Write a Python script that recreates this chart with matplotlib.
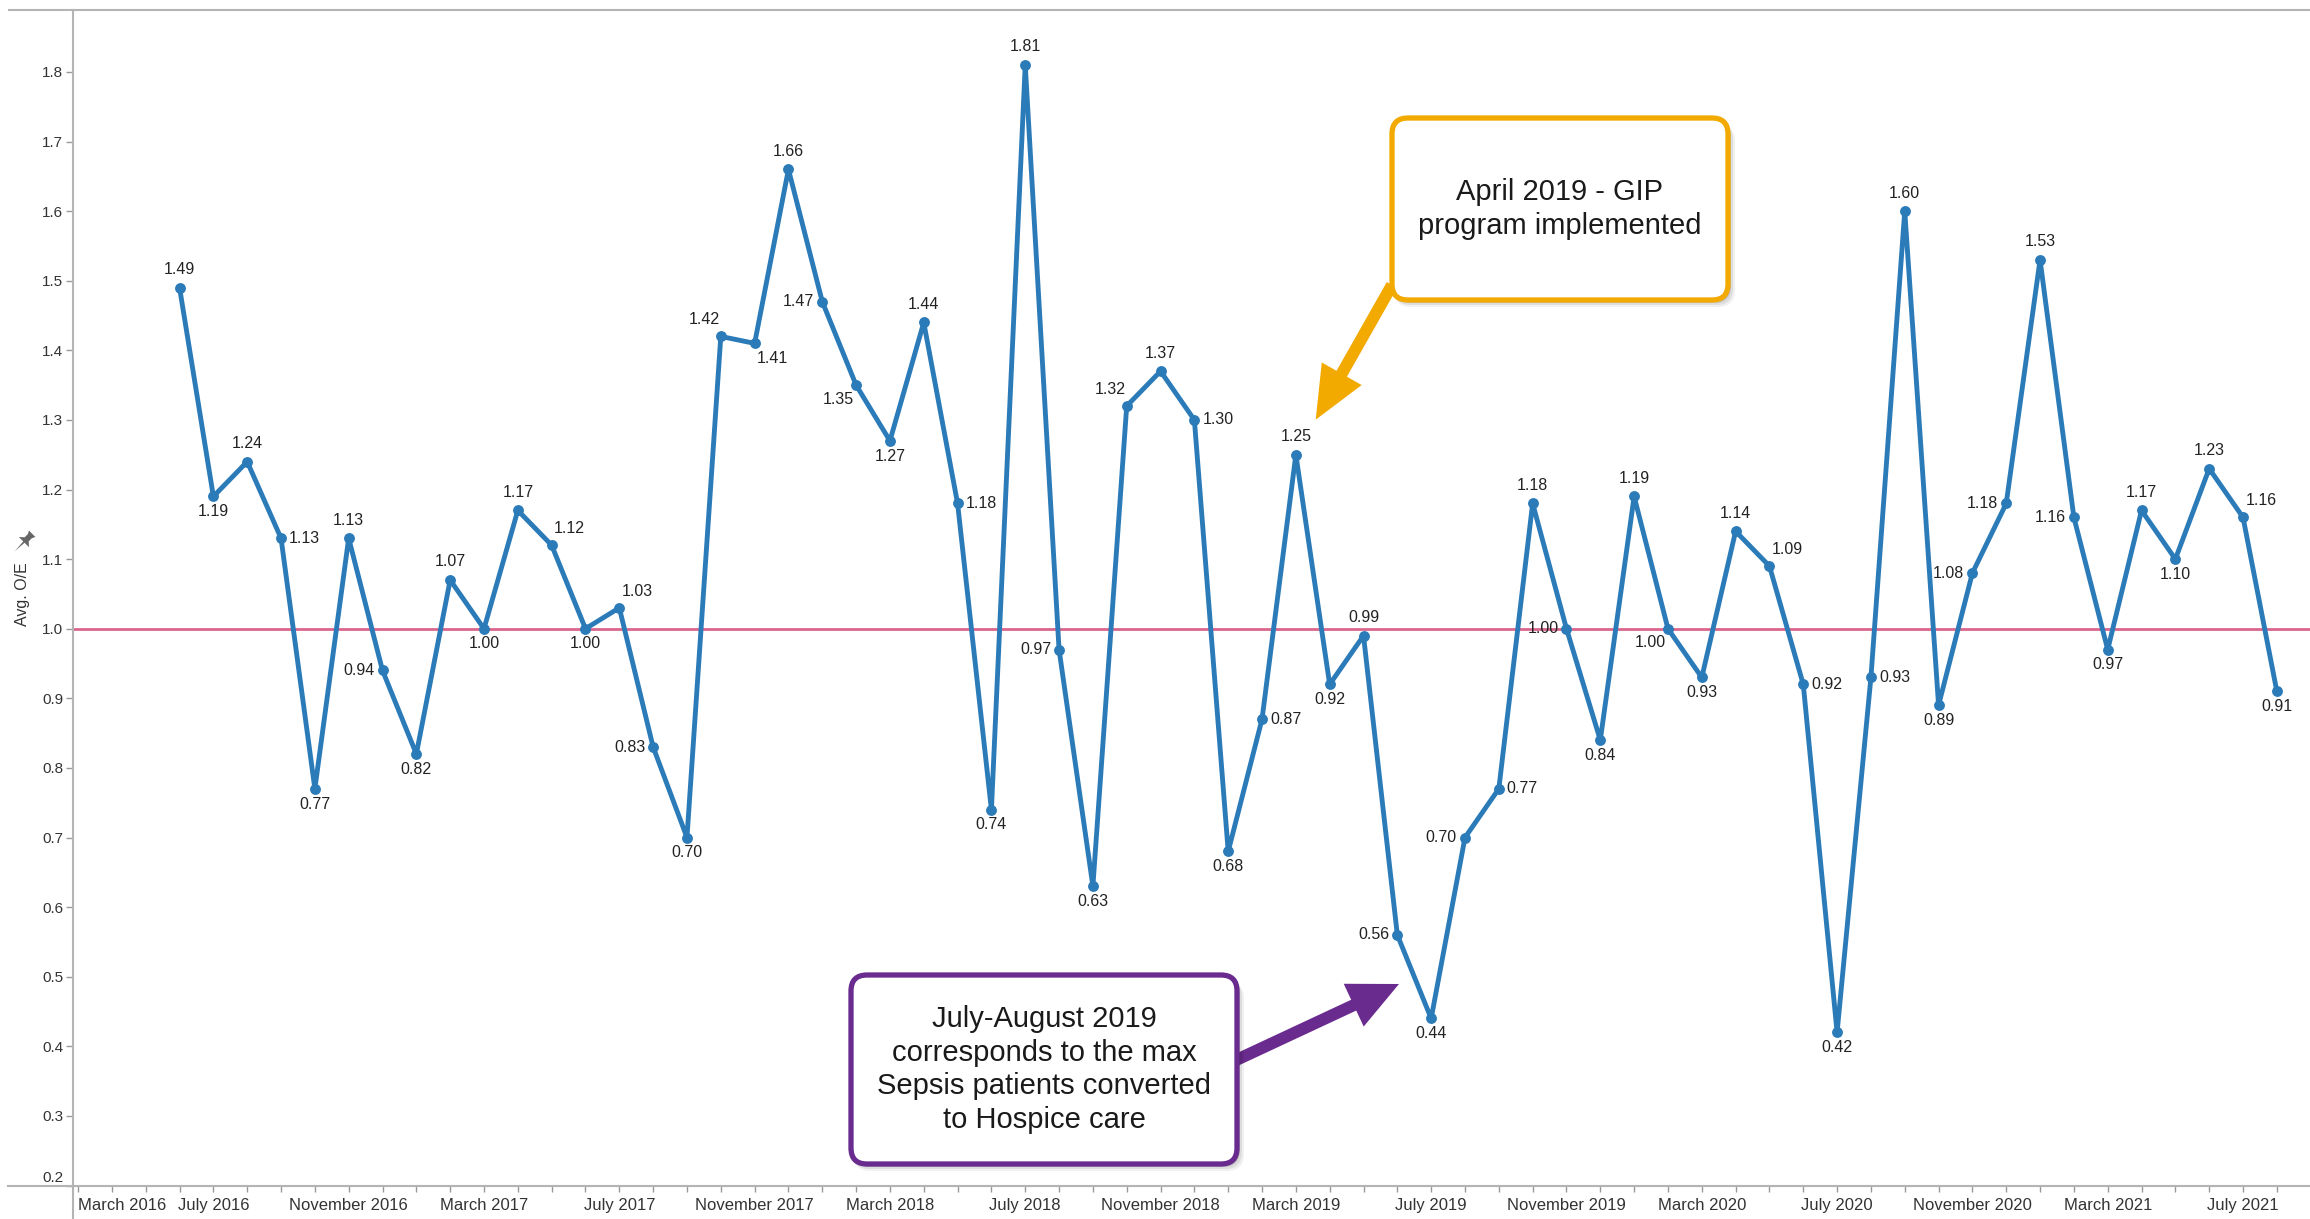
import numpy as np
import matplotlib
matplotlib.use('Agg')
import matplotlib.pyplot as plt
import matplotlib.patches as mpa
import matplotlib.lines as mlines

W, H = 2310, 1219   # output size in pixels (dpi 100)

# monthly Avg. O/E, June 2016 .. August 2021
oe_values = [1.49, 1.19, 1.24, 1.13, 0.77, 1.13, 0.94, 0.82, 1.07, 1.00,
             1.17, 1.12, 1.00, 1.03, 0.83, 0.70, 1.42, 1.41, 1.66, 1.47,
             1.35, 1.27, 1.44, 1.18, 0.74, 1.81, 0.97, 0.63, 1.32, 1.37,
             1.30, 0.68, 0.87, 1.25, 0.92, 0.99, 0.56, 0.44, 0.70, 0.77,
             1.18, 1.00, 0.84, 1.19, 1.00, 0.93, 1.14, 1.09, 0.92, 0.42,
             0.93, 1.60, 0.89, 1.08, 1.18, 1.53, 1.16, 0.97, 1.17, 1.10,
             1.23, 1.16, 0.91]
first_month = 'June 2016'
axis_start_offset = -3   # axis ticks start at March 2016

tick_labels = ['March 2016', 'July 2016', 'November 2016', 'March 2017',
               'July 2017', 'November 2017', 'March 2018', 'July 2018',
               'November 2018', 'March 2019', 'July 2019', 'November 2019',
               'March 2020', 'July 2020', 'November 2020', 'March 2021',
               'July 2021']
y_ticks = [0.2, 0.3, 0.4, 0.5, 0.6, 0.7, 0.8, 0.9, 1.0, 1.1, 1.2, 1.3,
           1.4, 1.5, 1.6, 1.7, 1.8]
reference = 1.0
gip_month = 33   # index of March 2019 point the orange arrow aims at

note_gip = 'April 2019 - GIP\nprogram implemented'
note_sepsis = ('July-August 2019\ncorresponds to the max\n'
               'Sepsis patients converted\nto Hospice care')

# where each data label sits relative to its point
label_pos = ['a', 'b', 'a', 'r', 'b', 'a', 'l', 'b', 'a', 'b',
             'a', 'ar', 'b', 'ar', 'l', 'b', 'al', 'br', 'a', 'l',
             'bl', 'b', 'a', 'r', 'b', 'a', 'l', 'b', 'al', 'a',
             'r', 'b', 'r', 'a', 'b', 'a', 'l', 'b', 'l', 'r',
             'a', 'l', 'b', 'a', 'bl', 'b', 'a', 'ar', 'r', 'b',
             'r', 'a', 'b', 'l', 'l', 'a', 'l', 'b', 'a', 'b',
             'a', 'ar', 'b']
offsets = {'a': (0, 13), 'b': (0, -11), 'r': (17, 0), 'l': (-17, 0),
           'ar': (13, 12), 'al': (-12, 12), 'br': (13, -11), 'bl': (-13, -10)}

plt.rcParams['font.family'] = ['Liberation Sans', 'DejaVu Sans']

line_blue = '#2b7bb9'
ref_pink = '#d9668b'
grid_gray = '#b4b4b4'
orange = '#f2a900'
purple = '#6a2b8f'

fig = plt.figure(figsize=(W / 100, H / 100), dpi=100)
ax = fig.add_axes([73 / W, 1 - 1185.5 / H, 1 - 73 / W, (1185.5 - 10) / H])

x = np.arange(len(oe_values))
ax.axhline(reference, color=ref_pink, lw=2.0, zorder=1)
ax.plot(x, oe_values, color=line_blue, lw=3.5, marker='o', ms=6.8,
        zorder=3)

for xi, v, p in zip(x, oe_values, label_pos):
    ax.annotate('%.2f' % v, (xi, v), xytext=offsets[p],
                textcoords='offset points', ha='center', va='center',
                fontsize=11.5, color='#222222', zorder=4)

ax.set_xlim(axis_start_offset - 0.15, len(oe_values) - 0.02)
ax.set_ylim(0.2, 1.889)

months = np.arange(axis_start_offset, len(oe_values))
ax.set_xticks(months)
xlabels = [''] * len(months)
for i, lab in enumerate(tick_labels):
    xlabels[i * 4] = lab
ax.set_xticklabels(xlabels)
ax.get_xticklabels()[0].set_ha('left')

ax.set_yticks(y_ticks)
ax.set_yticklabels(['%.1f' % t for t in y_ticks])
ax.get_yticklabels()[0].set_va('bottom')

ax.tick_params(axis='x', length=4, width=1, color='#999999',
               labelsize=12, labelcolor='#333333', pad=5)
ax.tick_params(axis='y', length=5, width=1, color='#999999',
               labelsize=11, labelcolor='#333333', pad=2)
for s in ax.spines.values():
    s.set_visible(False)


def px_line(x0, y0, x1, y1):
    fig.add_artist(mlines.Line2D([x0 / W, x1 / W], [1 - y0 / H, 1 - y1 / H],
                                 transform=fig.transFigure, color=grid_gray,
                                 lw=1.5, zorder=0.5))


# pane borders
px_line(9, 10, W, 10)
px_line(73, 10, 73, H)
px_line(8, 1185.5, W, 1185.5)

# y axis title and pin icon
fig.text(23 / W, 1 - 594 / H, 'Avg. O/E', rotation=90, ha='center',
         va='center', fontsize=11.5, color='#333333')
pin = np.array([[-0.35, 1.0], [0.35, 1.0], [0.22, 0.75], [0.22, 0.4],
                [0.55, 0.1], [0.07, 0.1], [0.0, -0.9], [-0.07, 0.1],
                [-0.55, 0.1], [-0.22, 0.4], [-0.22, 0.75]])
th = np.radians(-45)
rot = np.array([[np.cos(th), -np.sin(th)], [np.sin(th), np.cos(th)]])
pin = pin @ rot.T * 13 + np.array([23, H - 543])
fig.add_artist(mpa.Polygon(pin / np.array([W, H]), closed=True,
                           transform=fig.transFigure, fc='#666666',
                           ec='none'))


def note_box(x0, y0, x1, y1, edge, text):
    for k, a in ((7, 0.06), (5, 0.08), (3, 0.12)):
        sh = mpa.FancyBboxPatch(((x0 + 2) / 100, (H - y1 - k) / 100),
                                (x1 - x0 + k - 2) / 100, (y1 - y0) / 100,
                                boxstyle='round,pad=0,rounding_size=0.17',
                                transform=fig.dpi_scale_trans,
                                fc='#000000', ec='none', alpha=a, zorder=2)
        fig.add_artist(sh)
    box = mpa.FancyBboxPatch((x0 / 100, (H - y1) / 100),
                             (x1 - x0) / 100, (y1 - y0) / 100,
                             boxstyle='round,pad=0,rounding_size=0.16',
                             transform=fig.dpi_scale_trans,
                             fc='white', ec=edge, lw=3.8, zorder=3)
    fig.add_artist(box)
    fig.text((x0 + x1) / 2 / W, 1 - (y0 + y1) / 2 / H, text, ha='center',
             va='center', fontsize=21, color='#1a1a1a', zorder=4,
             multialignment='center', linespacing=1.26)


# orange note with arrow pointing at the March 2019 point
ax.annotate('', xy=(x[gip_month], oe_values[gip_month]), xycoords='data',
            xytext=(1392, H - 285), textcoords='figure pixels',
            arrowprops=dict(arrowstyle='simple,head_length=38,head_width=33,'
                            'tail_width=8.6', mutation_scale=1,
                            fc=orange, ec='none', shrinkA=0, shrinkB=29),
            annotation_clip=False)
note_box(1392, 118, 1728, 300, orange, note_gip)

# purple note with arrow
ax.annotate('', xy=(1399, H - 984), xycoords='figure pixels',
            xytext=(1232, H - 1062), textcoords='figure pixels',
            arrowprops=dict(arrowstyle='simple,head_length=36,head_width=34,'
                            'tail_width=8.6', mutation_scale=1,
                            fc=purple, ec='none', shrinkA=0, shrinkB=0),
            annotation_clip=False)
note_box(851, 975, 1237, 1164, purple, note_sepsis)

fig.savefig('out.png', dpi=100, facecolor='white')
